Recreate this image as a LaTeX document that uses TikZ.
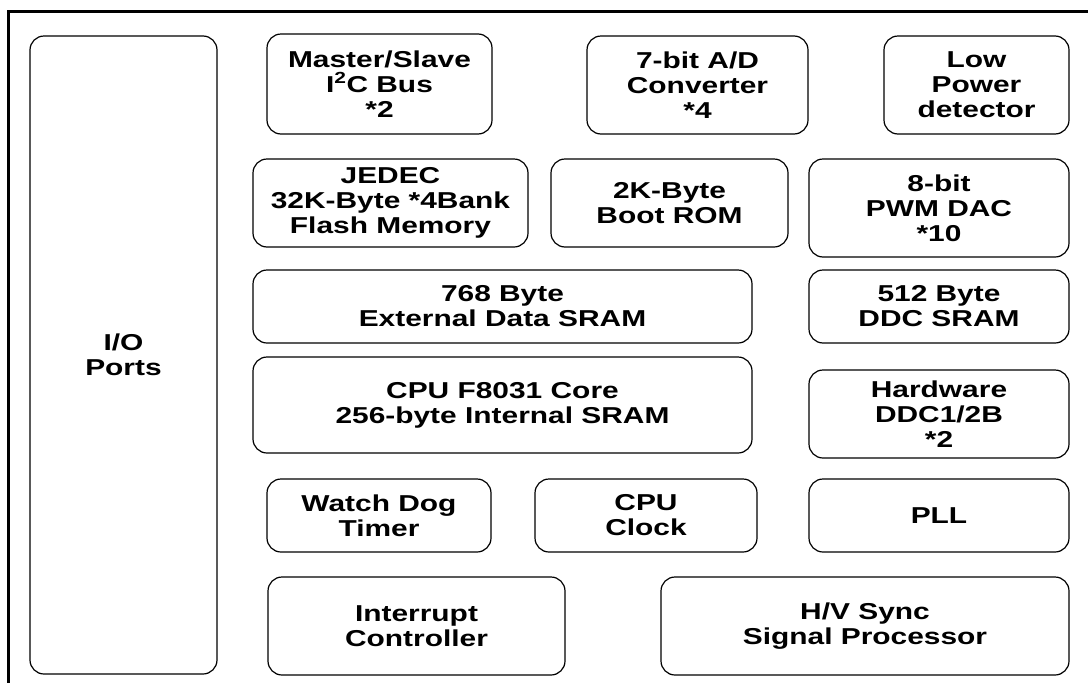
\documentclass[tikz,border=0pt]{standalone}
\usepackage{fontspec}
\setmainfont{Liberation Sans}[FakeStretch=1.3]
\begin{document}
\begin{tikzpicture}[x=1pt,y=-1pt,
  blk/.style={draw=black, line width=1.2pt, rounded corners=14pt, inner sep=0pt,
    align=center, font=\fontsize{23}{25}\selectfont\bfseries},
  frame/.style={draw=black, line width=3pt}]
\useasboundingbox (0,0) rectangle (1088,683);
\fill[white] (0,0) rectangle (1088,683);
\coordinate (fb) at (8,683);
\coordinate (fc) at (8,11);
\coordinate (fr) at (1088,11);
\draw[frame] (fb) -- (fc) -- (fr);
\node[blk, minimum width=187pt, minimum height=638pt] (io) at (123.5,355) {I/O\\Ports};
\node[blk, minimum width=225pt, minimum height=100pt] (ms) at (379.5,84) {Master/Slave\\I\textsuperscript{2}C Bus\\*2};
\node[blk, minimum width=221pt, minimum height=98pt] (ad) at (697.5,85) {7-bit A/D\\Converter\\*4};
\node[blk, minimum width=185pt, minimum height=98pt] (lp) at (976.5,85) {Low\\Power\\detector};
\node[blk, minimum width=275pt, minimum height=88pt] (jedec) at (390.5,203) {JEDEC\\32K-Byte *4Bank\\Flash Memory};
\node[blk, minimum width=237pt, minimum height=88pt] (boot) at (669.5,203) {2K-Byte\\Boot ROM};
\node[blk, minimum width=260pt, minimum height=98pt] (pwm) at (939,208) {8-bit\\PWM DAC\\*10};
\node[blk, minimum width=499pt, minimum height=73pt] (ext) at (502.5,306.5) {768 Byte\\External Data SRAM};
\node[blk, minimum width=260pt, minimum height=73pt] (ddc) at (939,306.5) {512 Byte\\DDC SRAM};
\node[blk, minimum width=499pt, minimum height=96pt] (cpu) at (502.5,405) {CPU F8031 Core\\256-byte Internal SRAM};
\node[blk, minimum width=260pt, minimum height=88pt] (hw) at (939,414) {Hardware\\DDC1/2B\\*2};
\node[blk, minimum width=224pt, minimum height=73pt] (wd) at (379,515.5) {Watch Dog\\Timer};
\node[blk, minimum width=222pt, minimum height=73pt] (clk) at (646,515.5) {CPU\\Clock};
\node[blk, minimum width=260pt, minimum height=73pt] (pll) at (939,515.5) {PLL};
\node[blk, minimum width=297pt, minimum height=98pt] (int) at (416.5,626) {Interrupt\\Controller};
\node[blk, minimum width=408pt, minimum height=98pt] (hv) at (865,626) {H/V Sync\\Signal Processor};
\end{tikzpicture}
\end{document}
